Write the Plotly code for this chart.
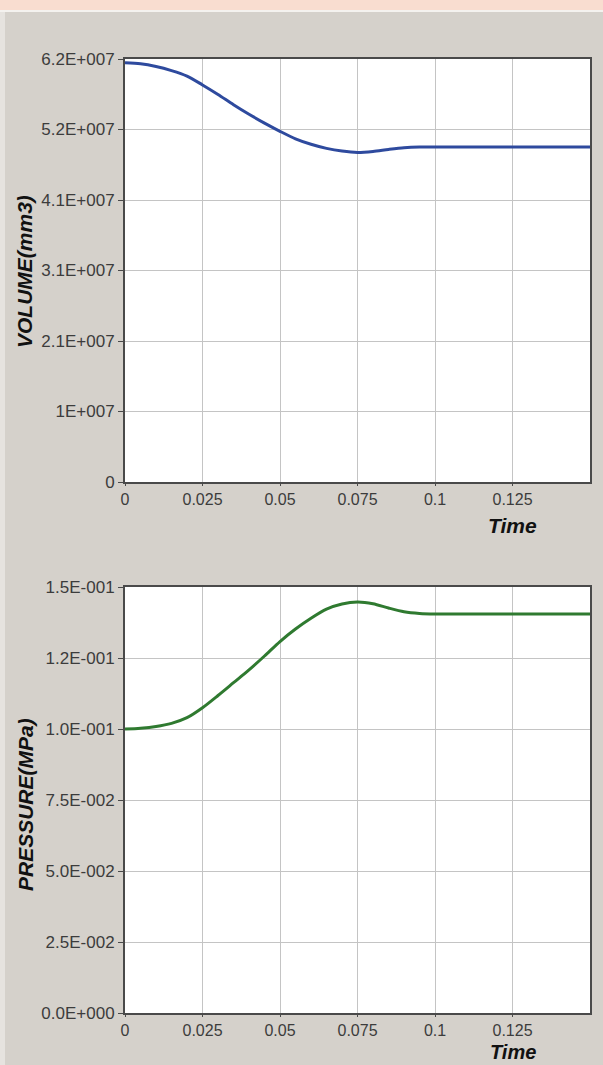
import plotly.graph_objects as go

# Simulation history samples
time = [0.0, 0.005, 0.01, 0.015, 0.02, 0.025, 0.03, 0.035, 0.04, 0.045, 0.05,
        0.055, 0.06, 0.065, 0.07, 0.075, 0.08, 0.085, 0.09, 0.095, 0.1, 0.125, 0.15]
volume = [6.145e7, 6.13e7, 6.09e7, 6.03e7, 5.95e7, 5.82e7, 5.68e7, 5.53e7, 5.39e7,
          5.26e7, 5.14e7, 5.03e7, 4.95e7, 4.89e7, 4.85e7, 4.83e7, 4.845e7, 4.875e7,
          4.90e7, 4.91e7, 4.91e7, 4.91e7, 4.91e7]

p_time = [0.0, 0.005, 0.01, 0.015, 0.02, 0.025, 0.03, 0.035, 0.04, 0.045, 0.05,
          0.055, 0.06, 0.065, 0.07, 0.075, 0.08, 0.085, 0.09, 0.095, 0.1, 0.125, 0.15]
pressure = [0.1000, 0.1003, 0.1009, 0.1020, 0.1040, 0.1075, 0.1118, 0.1163, 0.1208,
            0.1257, 0.1308, 0.1352, 0.1390, 0.1422, 0.1440, 0.1447, 0.1441, 0.1426,
            0.1413, 0.1407, 0.1405, 0.1405, 0.1405]

x_ticks = [0, 0.025, 0.05, 0.075, 0.1, 0.125]
x_labels = ["0", "0.025", "0.05", "0.075", "0.1", "0.125"]

vol_max = 6.2e7
vol_ticks = [vol_max * k / 6 for k in range(7)]
vol_labels = ["0", "1E+007", "2.1E+007", "3.1E+007", "4.1E+007", "5.2E+007", "6.2E+007"]

pres_max = 0.15
pres_ticks = [pres_max * k / 6 for k in range(7)]
pres_labels = ["0.0E+000", "2.5E-002", "5.0E-002", "7.5E-002", "1.0E-001", "1.2E-001", "1.5E-001"]

BG = "#d5d1cb"
FONT = "Liberation Sans, Arial, sans-serif"
TICKCOL = "#3c3c3c"

fig = go.Figure()
fig.add_trace(go.Scatter(x=time, y=volume, mode="lines",
                         line=dict(color="#2e4a9e", width=3, shape="spline", smoothing=0.8),
                         xaxis="x", yaxis="y", showlegend=False))
fig.add_trace(go.Scatter(x=p_time, y=pressure, mode="lines",
                         line=dict(color="#2f7a30", width=3, shape="spline", smoothing=0.8),
                         xaxis="x2", yaxis="y2", showlegend=False))

axis_common = dict(showline=True, mirror=True, linecolor="#4a4a4a", linewidth=2,
                   showgrid=True, gridcolor="#c4c4c4", gridwidth=1, zeroline=False,
                   ticks="outside", ticklen=5, tickcolor="#4a4a4a",
                   tickfont=dict(family=FONT, size=17, color=TICKCOL))
x_common = dict(axis_common, ticklen=2, tickfont=dict(family=FONT, size=16, color=TICKCOL))

top_dom = [(1013 - 482) / 954, 1.0]
bot_dom = [0.0, (1013 - 587) / 954]

fig.update_layout(
    width=603, height=1065,
    margin=dict(l=125, r=13, t=59, b=52),
    paper_bgcolor=BG, plot_bgcolor="white",
    xaxis=dict(domain=[0, 1], range=[0, 0.15], tickvals=x_ticks, ticktext=x_labels, anchor="y", **x_common),
    yaxis=dict(domain=top_dom, range=[0, vol_max], tickvals=vol_ticks, ticktext=vol_labels, anchor="x", **axis_common),
    xaxis2=dict(domain=[0, 1], range=[0, 0.15], tickvals=x_ticks, ticktext=x_labels, anchor="y2", **x_common),
    yaxis2=dict(domain=bot_dom, range=[0, pres_max], tickvals=pres_ticks, ticktext=pres_labels, anchor="x2", **axis_common),
)

title_font = dict(family=FONT, size=21, color="#111111")


def px_x(px):
    return (px - 125) / 465


def px_y(py):
    return (1013 - py) / 954


annotations = [
    dict(text="<b><i>VOLUME(mm3)</i></b>", x=px_x(25), y=px_y(272), textangle=-90, font=title_font),
    dict(text="<b><i>PRESSURE(MPa)</i></b>", x=px_x(25), y=px_y(805), textangle=-90, font=title_font),
    dict(text="<b><i>Time</i></b>", x=px_x(512), y=px_y(525), font=title_font),
    dict(text="<b><i>Time</i></b>", x=px_x(513), y=px_y(1052), font=dict(title_font, size=20)),
]
for a in annotations:
    fig.add_annotation(xref="paper", yref="paper", xanchor="center", yanchor="middle",
                       showarrow=False, **a)

# window frame: pink strip along the top, thin light edges
fig.add_shape(type="rect", xref="paper", yref="paper", x0=px_x(0), x1=px_x(603),
              y0=px_y(10), y1=px_y(0), fillcolor="#f9ddd0", line_width=0, layer="below")
fig.add_shape(type="rect", xref="paper", yref="paper", x0=px_x(0), x1=px_x(603),
              y0=px_y(12), y1=px_y(10), fillcolor="#f4f2ef", line_width=0, layer="below")
fig.add_shape(type="rect", xref="paper", yref="paper", x0=px_x(0), x1=px_x(5),
              y0=px_y(1065), y1=px_y(12), fillcolor="#e6e3df", line_width=0, layer="below")

fig.write_html("out.html")
